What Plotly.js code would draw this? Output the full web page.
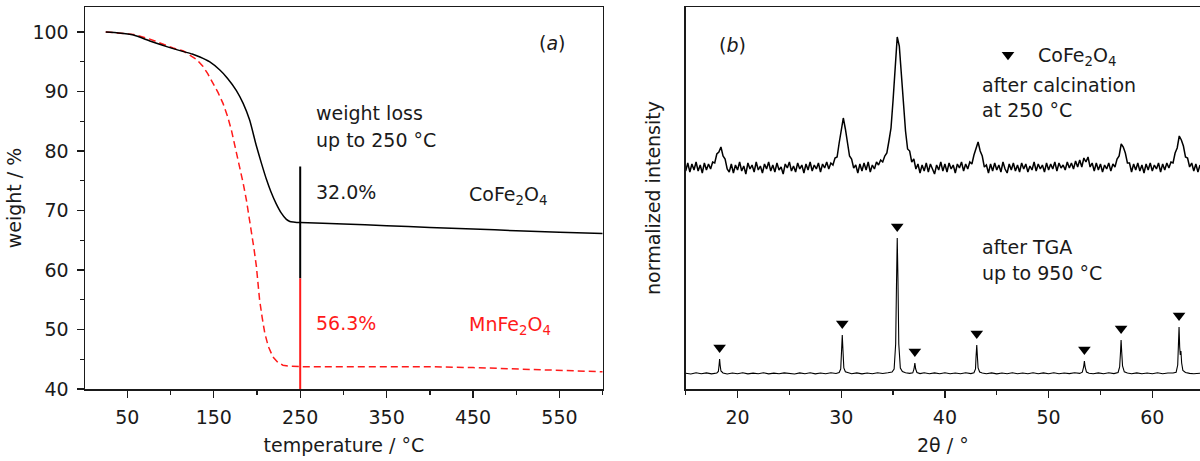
<!DOCTYPE html>
<html>
<head>
<meta charset="utf-8">
<script src="https://cdn.plot.ly/plotly-3.0.1.min.js"></script>
<style>html,body{margin:0;padding:0;background:#fff;overflow:hidden}#chart{width:1200px;height:461px}</style>
</head>
<body>
<div id="chart"></div>
<script>
// ---------- (a) TGA data ----------
const tgaTempCo = [25, 40, 57, 76, 90, 103, 115, 125, 134, 145, 157, 166, 176, 184, 191.5, 199, 205, 211, 216, 222, 228, 234, 238, 242, 246, 250, 300, 350, 400, 450, 500, 550, 600];
const tgaWeightCo = [100, 99.85, 99.5, 98.5, 97.8, 97.2, 96.7, 96.3, 95.8, 95.0, 93.6, 92.2, 90.2, 88.0, 85.2, 81.0, 78.0, 75.2, 73.2, 71.2, 69.6, 68.5, 68.15, 68.05, 68.0, 68.0, 67.75, 67.45, 67.15, 66.9, 66.6, 66.35, 66.15];

const tgaTempMn = [25, 40, 57, 76, 90, 103, 115, 122, 130, 137.6, 143, 149, 155, 160.7, 166, 170.4, 175, 180, 184, 187.7, 191, 193.5, 196.5, 199.3, 201, 203, 206, 209, 213, 218.4, 224, 230, 237, 245, 250, 300, 350, 400, 450, 500, 550, 600];
const tgaWeightMn = [100, 99.85, 99.6, 98.8, 98.0, 97.3, 96.8, 96.1, 95.4, 94.2, 93.0, 91.4, 89.8, 88.0, 85.8, 83.5, 80.6, 77.4, 74.6, 71.8, 68.8, 66.7, 63.6, 60.6, 58.0, 55.0, 52.0, 49.4, 47.2, 45.4, 44.5, 44.0, 43.85, 43.8, 43.75, 43.75, 43.75, 43.75, 43.6, 43.4, 43.15, 42.9];

// weight-loss marker line at 250 °C
const lossLineTemp = [250, 250];
const lossLineCo = [77.4, 58.6];
const lossLineMn = [58.6, 40];

// ---------- (b) XRD data ----------
const xrdCalcStart = 15.0, xrdCalcStep = 0.2;
const xrdCalcIntensity = [
  2.18, 2.26, 2.17, 2.25, 2.19, 2.27, 2.18, 2.24, 2.16, 2.26, 2.19, 2.25, 2.20,
  2.27, 2.26, 2.35, 2.37, 2.42, 2.33, 2.30, 2.20, 2.17,
  2.25, 2.16, 2.24, 2.19, 2.27, 2.18, 2.23, 2.15, 2.26, 2.20,
  2.24, 2.17, 2.27, 2.19, 2.23, 2.16, 2.25, 2.20, 2.27, 2.18,
  2.24, 2.17, 2.26, 2.19, 2.22, 2.15, 2.25, 2.21, 2.27, 2.18,
  2.23, 2.17, 2.26, 2.20, 2.24, 2.16, 2.25, 2.19, 2.27, 2.18,
  2.24, 2.20, 2.26, 2.17, 2.25, 2.21, 2.27, 2.20, 2.26,
  2.24, 2.31, 2.32, 2.46, 2.58, 2.71, 2.60, 2.47, 2.33, 2.30, 2.21, 2.24,
  2.16, 2.25, 2.18, 2.26, 2.19, 2.27, 2.17, 2.24, 2.20, 2.27,
  2.24, 2.29, 2.27, 2.33, 2.36, 2.48, 2.61, 2.89, 3.21, 3.52, 3.43, 3.13, 2.79, 2.58, 2.40, 2.38, 2.27, 2.30, 2.20, 2.25,
  2.16, 2.24, 2.18, 2.26, 2.17, 2.25, 2.20, 2.15, 2.24, 2.19,
  2.27, 2.18, 2.25, 2.17, 2.26, 2.20, 2.24, 2.16, 2.25, 2.21,
  2.27, 2.18, 2.25, 2.20,
  2.27, 2.25, 2.34, 2.40, 2.47, 2.38, 2.33, 2.22, 2.24,
  2.16, 2.25, 2.18, 2.26, 2.19, 2.24, 2.17, 2.27, 2.20, 2.16,
  2.25, 2.19, 2.26, 2.18, 2.24, 2.17, 2.26, 2.20, 2.25, 2.17,
  2.23, 2.19, 2.27, 2.18, 2.25, 2.20, 2.24, 2.17, 2.26, 2.19,
  2.25, 2.20, 2.27, 2.18, 2.26, 2.21, 2.24, 2.19, 2.27, 2.21,
  2.26, 2.20, 2.28, 2.22,
  2.29, 2.22, 2.31, 2.27, 2.32, 2.22, 2.26,
  2.18, 2.26, 2.19, 2.25, 2.17, 2.24, 2.20, 2.26, 2.18, 2.25,
  2.22, 2.30, 2.33, 2.45, 2.42, 2.36, 2.26, 2.26,
  2.17, 2.25, 2.19, 2.26, 2.18, 2.24, 2.16, 2.25, 2.19, 2.26, 2.18, 2.24, 2.20, 2.26, 2.17, 2.25, 2.19, 2.26, 2.21,
  2.27, 2.26, 2.36, 2.41, 2.53, 2.49, 2.43, 2.32, 2.31, 2.22, 2.26, 2.18,
  2.25, 2.17, 2.24
];
const xrdCalcAngle = xrdCalcIntensity.map((_, i) => +(xrdCalcStart + i * xrdCalcStep).toFixed(2));

const xrdTgaAngle = [
  15, 15.5, 16, 16.5, 17, 17.5, 18.0, 18.15, 18.22, 18.27,
  18.32, 18.4, 18.6, 19, 19.5, 20, 20.5, 21, 21.5, 22,
  22.5, 23, 23.5, 24, 24.5, 25, 25.5, 26, 26.5, 27,
  27.5, 28, 28.5, 29, 29.5, 29.8, 29.95, 30.03, 30.1, 30.17,
  30.25, 30.4, 30.7, 31, 31.5, 32, 32.5, 33, 33.5, 34,
  34.5, 34.9, 35.1, 35.25, 35.33, 35.4, 35.47, 35.55, 35.7, 35.9,
  36.2, 36.6, 36.9, 37.02, 37.1, 37.18, 37.3, 37.6, 38, 38.5,
  39, 39.5, 40, 40.5, 41, 41.5, 42, 42.5, 42.8, 42.95,
  43.0, 43.07, 43.14, 43.2, 43.35, 43.6, 44, 44.5, 45, 45.5,
  46, 46.5, 47, 47.5, 48, 48.5, 49, 49.5, 50, 50.5,
  51, 51.5, 52, 52.5, 53, 53.25, 53.38, 53.45, 53.52, 53.65,
  53.9, 54.3, 54.8, 55.3, 55.8, 56.3, 56.7, 56.85, 56.93, 56.99,
  57.05, 57.13, 57.3, 57.6, 58, 58.5, 59, 59.5, 60, 60.5,
  61, 61.5, 62, 62.3, 62.45, 62.52, 62.58, 62.64, 62.7, 62.76,
  62.83, 62.95, 63.2, 63.6, 64, 64.6
];
const xrdTgaIntensity = [
  0.158, 0.150, 0.162, 0.153, 0.161, 0.151, 0.160, 0.175, 0.24, 0.30,
  0.24, 0.18, 0.160, 0.150, 0.160, 0.152, 0.162, 0.151, 0.159, 0.153,
  0.162, 0.151, 0.159, 0.152, 0.161, 0.154, 0.150, 0.161, 0.153, 0.162,
  0.151, 0.160, 0.153, 0.162, 0.155, 0.165, 0.20, 0.38, 0.54, 0.38,
  0.21, 0.172, 0.160, 0.153, 0.161, 0.151, 0.160, 0.153, 0.162, 0.155,
  0.162, 0.170, 0.20, 0.45, 1.05, 1.51, 1.10, 0.45, 0.21, 0.175,
  0.162, 0.156, 0.162, 0.20, 0.26, 0.20, 0.165, 0.154, 0.162, 0.152,
  0.161, 0.153, 0.162, 0.152, 0.160, 0.153, 0.162, 0.154, 0.163, 0.20,
  0.32, 0.44, 0.31, 0.21, 0.170, 0.160, 0.153, 0.161, 0.151, 0.160,
  0.153, 0.162, 0.152, 0.160, 0.153, 0.162, 0.152, 0.161, 0.153, 0.162,
  0.152, 0.160, 0.154, 0.162, 0.156, 0.168, 0.22, 0.28, 0.22, 0.170,
  0.158, 0.152, 0.161, 0.153, 0.162, 0.154, 0.165, 0.22, 0.36, 0.49,
  0.37, 0.23, 0.172, 0.160, 0.153, 0.161, 0.152, 0.160, 0.153, 0.162,
  0.152, 0.160, 0.160, 0.168, 0.24, 0.45, 0.62, 0.42, 0.34, 0.38,
  0.26, 0.185, 0.165, 0.156, 0.153, 0.158
];

// CoFe2O4 reflections marked in the pattern after TGA
const peakAngle = [18.27, 30.1, 35.4, 37.1, 43.07, 53.45, 56.99, 62.58];
const peakTop = [0.30, 0.54, 1.51, 0.26, 0.44, 0.28, 0.49, 0.62];

// ---------- styles ----------
const FONT = 'DejaVu Sans, Liberation Sans, Arial, sans-serif';
const FS = 19;
const AX = '#1a1a1a';
const TXT = '#1a1a1a';
const RED = '#ff1a1a';
const markerGap = 0.115;

const traces = [
  {x: tgaTempMn, y: tgaWeightMn, xaxis: 'x', yaxis: 'y', mode: 'lines', showlegend: false,
   line: {color: RED, width: 1.5, dash: '7px,4px'}},
  {x: tgaTempCo, y: tgaWeightCo, xaxis: 'x', yaxis: 'y', mode: 'lines', showlegend: false,
   line: {color: '#000', width: 1.5, shape: 'spline', smoothing: 0.6}},
  {x: lossLineTemp, y: lossLineCo, xaxis: 'x', yaxis: 'y', mode: 'lines', showlegend: false,
   line: {color: '#000', width: 2}},
  {x: lossLineTemp, y: lossLineMn, xaxis: 'x', yaxis: 'y', mode: 'lines', showlegend: false,
   line: {color: RED, width: 2}},
  {x: xrdCalcAngle, y: xrdCalcIntensity, xaxis: 'x2', yaxis: 'y2', mode: 'lines', showlegend: false,
   line: {color: '#000', width: 1.5}},
  {x: xrdTgaAngle, y: xrdTgaIntensity, xaxis: 'x2', yaxis: 'y2', mode: 'lines', showlegend: false,
   line: {color: '#000', width: 1.1}},
  {x: peakAngle, y: peakTop.map(v => v + markerGap), xaxis: 'x2', yaxis: 'y2', mode: 'markers',
   name: 'CoFe<sub>2</sub>O<sub>4</sub>', showlegend: true,
   marker: {symbol: 'triangle-down', size: 11, color: '#000'}}
];

const tickFont = {family: FONT, size: FS, color: TXT};
const titleFont = {family: FONT, size: FS, color: TXT};
const annFont = {family: FONT, size: FS, color: TXT};
const annFontRed = {family: FONT, size: FS, color: RED};

function ann(xref, yref, x, y, text, anchor, font) {
  return {xref: xref, yref: yref, x: x, y: y, text: text, showarrow: false,
          xanchor: anchor, yanchor: 'middle', font: font || annFont};
}

const layout = {
  width: 1200, height: 461, autosize: false,
  margin: {l: 0, r: 0, t: 0, b: 0},
  paper_bgcolor: '#fff', plot_bgcolor: '#fff',
  font: {family: FONT, size: FS, color: TXT},
  xaxis: {
    domain: [85 / 1200, 602.7 / 1200], anchor: 'y', range: [1, 600],
    tick0: 50, dtick: 100, ticks: 'outside', ticklen: 7, tickwidth: 1.3, tickcolor: AX,
    minor: {tick0: 0, dtick: 100, ticks: 'outside', ticklen: 4, tickwidth: 1.3, tickcolor: AX},
    showline: true, linecolor: AX, linewidth: 1.5, mirror: true, showgrid: false, zeroline: false,
    tickfont: tickFont, ticklabelstandoff: 4,
    title: {text: 'temperature / °C', font: titleFont, standoff: 11}
  },
  yaxis: {
    domain: [(461 - 389) / 461, (461 - 7) / 461], anchor: 'x', range: [40, 104.2],
    tick0: 40, dtick: 10, ticks: 'outside', ticklen: 7, tickwidth: 1.3, tickcolor: AX,
    minor: {tick0: 45, dtick: 10, ticks: 'outside', ticklen: 4, tickwidth: 1.3, tickcolor: AX},
    showline: true, linecolor: AX, linewidth: 1.5, mirror: true, showgrid: false, zeroline: false,
    tickfont: tickFont, ticklabelstandoff: 4,
    title: {text: 'weight / %', font: titleFont, standoff: 6}
  },
  xaxis2: {
    domain: [685.7 / 1200, 1], anchor: 'y2', range: [15, 64.6],
    tick0: 20, dtick: 10, ticks: 'outside', ticklen: 7, tickwidth: 1.3, tickcolor: AX,
    minor: {tick0: 15, dtick: 10, ticks: 'outside', ticklen: 4, tickwidth: 1.3, tickcolor: AX},
    showline: true, linecolor: AX, linewidth: 1.5, mirror: true, showgrid: false, zeroline: false,
    tickfont: tickFont, ticklabelstandoff: 4,
    title: {text: '2θ / °', font: titleFont, standoff: 11}
  },
  yaxis2: {
    domain: [(461 - 389) / 461, (461 - 7) / 461], anchor: 'x2', range: [0, 3.82],
    showticklabels: false, ticks: '',
    showline: true, linecolor: AX, linewidth: 1.5, mirror: false, showgrid: false, zeroline: false,
    title: {text: 'normalized intensity', font: titleFont, standoff: 18}
  },
  legend: {
    x: 978 / 1200, y: (461 - 36) / 461, xanchor: 'left', yanchor: 'top',
    bgcolor: 'rgba(0,0,0,0)', borderwidth: 0, itemwidth: 50,
    font: {family: FONT, size: FS, color: TXT}
  },
  showlegend: true,
  annotations: [
    ann('x', 'y', 542, 98.15, '(<i>a</i>)', 'center'),
    ann('x', 'y', 266.5, 86.4, 'weight loss', 'left'),
    ann('x', 'y', 266.5, 81.85, 'up to 250 °C', 'left'),
    ann('x', 'y', 266.5, 73.1, '32.0%', 'left'),
    ann('x', 'y', 442.5, 72.6, 'CoFe<sub>2</sub>O<sub>4</sub>', 'left'),
    ann('x', 'y', 266.5, 51.1, '56.3%', 'left', annFontRed),
    ann('x', 'y', 442.5, 50.6, 'MnFe<sub>2</sub>O<sub>4</sub>', 'left', annFontRed),
    ann('x2', 'y2', 19.49, 3.44, '(<i>b</i>)', 'center'),
    ann('x2', 'y2', 43.39, 3.04, 'after calcination', 'left'),
    ann('x2', 'y2', 43.39, 2.79, 'at 250 °C', 'left'),
    ann('x2', 'y2', 43.39, 1.423, 'after TGA', 'left'),
    ann('x2', 'y2', 43.39, 1.157, 'up to 950 °C', 'left')
  ]
};

Plotly.newPlot('chart', traces, layout, {staticPlot: true, displayModeBar: false});
</script>
</body>
</html>
